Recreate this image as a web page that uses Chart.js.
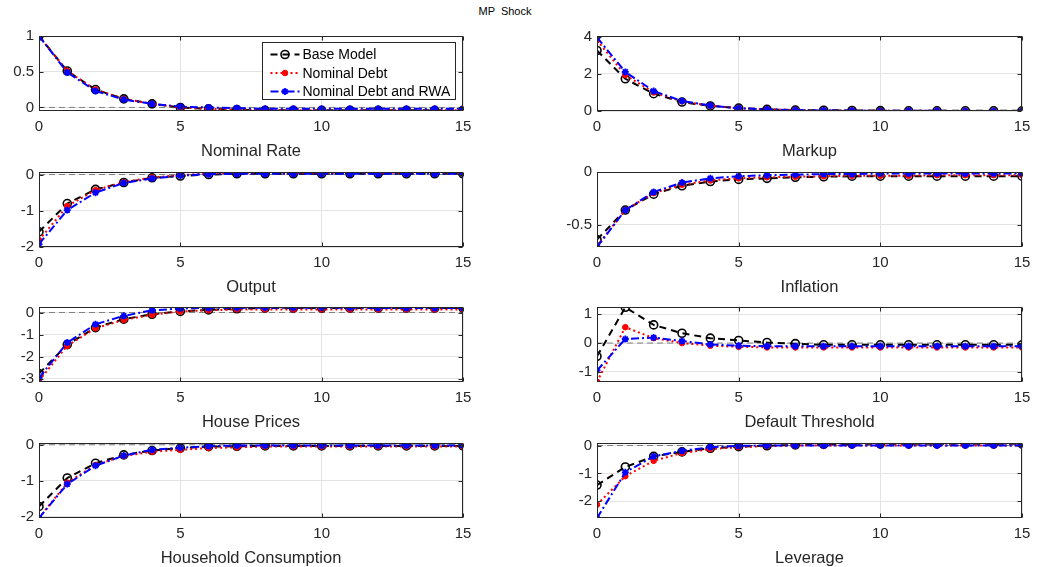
<!DOCTYPE html>
<html>
<head>
<meta charset="utf-8">
<title>MP Shock</title>
<script src="https://cdn.jsdelivr.net/npm/chart.js@4.4.1/dist/chart.umd.min.js"></script>
<style>
  body { margin: 0; background: #fff; width: 1039px; height: 567px; overflow: hidden; position: relative;
         font-family: 'Liberation Sans', Arial, Helvetica, sans-serif; }
  #title { position: absolute; top: 5px; left: 455px; width: 100px; text-align: center; font-size: 11px; color: #000; white-space: pre; }
  canvas { position: absolute; }
</style>
</head>
<body>
<div id="title">MP  Shock</div>
<script>
const periods = [0, 1, 2, 3, 4, 5, 6, 7, 8, 9, 10, 11, 12, 13, 14, 15];
const seriesNames = ['Base Model', 'Nominal Debt', 'Nominal Debt and RWA'];

const panelTitles = ['Nominal Rate', 'Markup', 'Output', 'Inflation',
                     'House Prices', 'Default Threshold', 'Household Consumption', 'Leverage'];
const yMins = [-0.05, 0, -2.0, -0.71, -3.14, -1.35, -2.03, -2.6];
const yMaxs = [1.0, 4.03, 0.07, 0, 0.25, 1.25, 0.05, 0.09];
const yTickValues = [[0, 0.5, 1], [0, 2, 4], [-2, -1, 0], [-0.5, 0],
                     [-3, -2, -1, 0], [-1, 0, 1], [-2, -1, 0], [-2, -1, 0]];
const xTickValues = [0, 5, 10, 15];

// impulse responses, one array per model and variable
const nominalRateBase = [1, 0.51, 0.25, 0.12, 0.05, 0.0, -0.02, -0.03, -0.04, -0.04, -0.04, -0.04, -0.04, -0.04, -0.04, -0.04];
const nominalRateDebt = [1, 0.51, 0.25, 0.12, 0.05, 0.0, -0.02, -0.03, -0.035, -0.04, -0.04, -0.04, -0.04, -0.04, -0.04, -0.04];
const nominalRateRwa  = [1, 0.49, 0.23, 0.11, 0.05, 0.01, 0.0, -0.01, -0.02, -0.02, -0.02, -0.02, -0.02, -0.02, -0.02, -0.02];

const markupBase = [3.25, 1.73, 0.93, 0.48, 0.27, 0.16, 0.09, 0.05, 0.04, 0.03, 0.02, 0.01, 0.01, 0.01, 0.01, 0.01];
const markupDebt = [3.8, 1.93, 1.0, 0.52, 0.28, 0.15, 0.09, 0.05, 0.03, 0.02, 0.01, 0.01, 0.01, 0.0, 0.0, 0.0];
const markupRwa  = [3.95, 2.1, 1.07, 0.54, 0.29, 0.15, 0.09, 0.05, 0.03, 0.02, 0.01, 0.01, 0.01, 0.0, 0.0, 0.0];

const outputBase = [-1.58, -0.8, -0.41, -0.22, -0.09, -0.04, 0.0, 0.02, 0.02, 0.02, 0.02, 0.02, 0.02, 0.02, 0.02, 0.02];
const outputDebt = [-1.81, -0.87, -0.43, -0.21, -0.08, -0.02, 0.03, 0.05, 0.05, 0.05, 0.05, 0.05, 0.05, 0.05, 0.05, 0.05];
const outputRwa  = [-1.92, -0.98, -0.5, -0.23, -0.11, -0.03, 0.01, 0.02, 0.02, 0.02, 0.02, 0.02, 0.02, 0.02, 0.02, 0.02];

const inflationBase = [-0.64, -0.36, -0.21, -0.13, -0.09, -0.07, -0.06, -0.05, -0.045, -0.04, -0.04, -0.04, -0.04, -0.04, -0.04, -0.04];
const inflationDebt = [-0.7, -0.36, -0.2, -0.12, -0.08, -0.06, -0.05, -0.045, -0.04, -0.035, -0.035, -0.035, -0.03, -0.03, -0.03, -0.03];
const inflationRwa  = [-0.71, -0.36, -0.19, -0.1, -0.06, -0.04, -0.03, -0.025, -0.02, -0.02, -0.015, -0.015, -0.015, -0.015, -0.015, -0.015];

const housePricesBase = [-2.76, -1.45, -0.68, -0.3, -0.08, 0.05, 0.12, 0.17, 0.2, 0.2, 0.2, 0.2, 0.2, 0.2, 0.2, 0.2];
const housePricesDebt = [-3.08, -1.5, -0.71, -0.33, -0.1, 0.05, 0.1, 0.14, 0.14, 0.14, 0.14, 0.14, 0.14, 0.14, 0.14, 0.14];
const housePricesRwa  = [-2.95, -1.36, -0.53, -0.15, 0.1, 0.18, 0.21, 0.22, 0.22, 0.22, 0.22, 0.22, 0.21, 0.21, 0.2, 0.2];

const thresholdBase = [-0.46, 1.24, 0.63, 0.34, 0.17, 0.09, 0.02, -0.02, -0.06, -0.06, -0.06, -0.06, -0.06, -0.06, -0.06, -0.06];
const thresholdDebt = [-1.34, 0.55, 0.17, 0.0, -0.09, -0.13, -0.15, -0.15, -0.15, -0.15, -0.15, -0.15, -0.15, -0.15, -0.15, -0.15];
const thresholdRwa  = [-0.95, 0.14, 0.19, 0.07, -0.05, -0.09, -0.11, -0.11, -0.11, -0.11, -0.11, -0.11, -0.11, -0.11, -0.11, -0.11];

const consumptionBase = [-1.71, -0.92, -0.51, -0.28, -0.16, -0.09, -0.05, -0.04, -0.03, -0.03, -0.03, -0.03, -0.03, -0.03, -0.03, -0.03];
const consumptionDebt = [-2.03, -1.05, -0.56, -0.31, -0.19, -0.14, -0.09, -0.07, -0.05, -0.05, -0.05, -0.05, -0.05, -0.05, -0.05, -0.05];
const consumptionRwa  = [-2.03, -1.09, -0.58, -0.3, -0.14, -0.08, -0.04, -0.02, -0.02, -0.02, -0.02, -0.02, -0.02, -0.02, -0.02, -0.02];

const leverageBase = [-1.42, -0.77, -0.39, -0.23, -0.1, -0.04, -0.01, 0.02, 0.04, 0.06, 0.06, 0.06, 0.06, 0.06, 0.06, 0.06];
const leverageDebt = [-2.12, -1.1, -0.55, -0.27, -0.13, -0.06, -0.02, 0.0, 0.0, 0.0, 0.0, 0.0, 0.0, 0.0, 0.0, 0.0];
const leverageRwa  = [-2.6, -0.96, -0.39, -0.19, -0.06, -0.01, 0.0, 0.0, 0.0, 0.0, 0.0, 0.0, 0.0, 0.0, 0.0, 0.0];

const panelSeries = [
  [nominalRateBase, nominalRateDebt, nominalRateRwa],
  [markupBase, markupDebt, markupRwa],
  [outputBase, outputDebt, outputRwa],
  [inflationBase, inflationDebt, inflationRwa],
  [housePricesBase, housePricesDebt, housePricesRwa],
  [thresholdBase, thresholdDebt, thresholdRwa],
  [consumptionBase, consumptionDebt, consumptionRwa],
  [leverageBase, leverageDebt, leverageRwa],
];

const FONT = "'Liberation Sans', Arial, Helvetica, sans-serif";
const INK = '#262626';

const lineStyles = [
  { borderColor: '#000000', borderDash: [7, 5], pointStyle: 'circle', pointRadius: 4,
    pointBackgroundColor: 'rgba(0,0,0,0)', pointBorderColor: '#000000', pointBorderWidth: 1.6 },
  { borderColor: '#ff0000', borderDash: [2, 3], pointStyle: 'circle', pointRadius: 2.8,
    pointBackgroundColor: '#ff0000', pointBorderColor: '#ff0000', pointBorderWidth: 1 },
  { borderColor: '#0000ff', borderDash: [8, 3, 2, 3], pointStyle: 'star', pointRadius: 3.5,
    pointBackgroundColor: '#0000ff', pointBorderColor: '#0000ff', pointBorderWidth: 1.8 },
];

// axes box with inward tick marks
const frame = {
  id: 'frame',
  afterDatasetsDraw(chart) {
    const { ctx, chartArea: a, scales: { x, y } } = chart;
    const l = Math.round(a.left) + 0.5, r = Math.round(a.right) - 0.5;
    const t = Math.round(a.top) + 0.5, b = Math.round(a.bottom) - 0.5;
    ctx.save();
    ctx.strokeStyle = INK;
    ctx.lineWidth = 1;
    ctx.setLineDash([]);
    ctx.strokeRect(l, t, r - l, b - t);
    ctx.beginPath();
    x.ticks.forEach(tk => {
      const px = Math.round(x.getPixelForValue(tk.value)) + 0.5;
      ctx.moveTo(px, t); ctx.lineTo(px, t + 4);
      ctx.moveTo(px, b); ctx.lineTo(px, b - 4);
    });
    y.ticks.forEach(tk => {
      const py = Math.round(y.getPixelForValue(tk.value)) + 0.5;
      ctx.moveTo(l, py); ctx.lineTo(l + 4, py);
      ctx.moveTo(r, py); ctx.lineTo(r - 4, py);
    });
    ctx.stroke();
    ctx.restore();
  }
};

// legend drawn inside the plot area, top right corner
const insetLegend = {
  id: 'insetLegend',
  afterDraw(chart) {
    const { ctx, chartArea: a } = chart;
    const w = 193, h = 57;
    const x0 = Math.round(a.right - 201) + 0.5, y0 = Math.round(a.top + 6) + 0.5;
    ctx.save();
    ctx.fillStyle = '#fff';
    ctx.fillRect(x0, y0, w, h);
    ctx.strokeStyle = INK;
    ctx.lineWidth = 1;
    ctx.setLineDash([]);
    ctx.strokeRect(x0, y0, w, h);
    ctx.font = '14px ' + FONT;
    ctx.textBaseline = 'middle';
    const rows = [12, 30.5, 49];
    seriesNames.forEach((name, i) => {
      const st = lineStyles[i];
      const cy = y0 + rows[i];
      ctx.strokeStyle = st.borderColor;
      ctx.lineWidth = 2;
      ctx.setLineDash(st.borderDash);
      ctx.beginPath();
      ctx.moveTo(x0 + 8, cy); ctx.lineTo(x0 + 37, cy);
      ctx.stroke();
      ctx.setLineDash([]);
      ctx.fillStyle = st.pointBackgroundColor;
      ctx.strokeStyle = st.pointBorderColor;
      ctx.lineWidth = st.pointBorderWidth;
      Chart.helpers.drawPoint(ctx, { pointStyle: st.pointStyle, radius: st.pointRadius,
        borderWidth: st.pointBorderWidth, rotation: 0 }, x0 + 22.5, cy);
      ctx.fillStyle = '#000';
      ctx.fillText(name, x0 + 40, cy + 1);
    });
    ctx.restore();
  }
};

const colLefts = [39, 597];
const colWidths = [424, 425];
const rowTops = [36, 172, 307, 443];
const plotHeight = 75;
const yAxisWidth = 60, xAxisHeight = 52, padTop = 10, padRight = 14;

panelTitles.forEach((title, p) => {
  const col = p % 2, row = Math.floor(p / 2);
  const canvas = document.createElement('canvas');
  const cw = yAxisWidth + colWidths[col] + padRight;
  const ch = padTop + plotHeight + xAxisHeight;
  canvas.width = cw; canvas.height = ch;
  canvas.style.left = (colLefts[col] - yAxisWidth) + 'px';
  canvas.style.top = (rowTops[row] - padTop) + 'px';
  canvas.style.width = cw + 'px'; canvas.style.height = ch + 'px';
  document.body.appendChild(canvas);

  const datasets = panelSeries[p].map((vals, i) => ({
    label: seriesNames[i],
    data: periods.map((t, k) => ({ x: t, y: vals[k] })),
    borderWidth: 2,
    tension: 0,
    order: 3 - i,
    ...lineStyles[i],
  }));
  datasets.push({
    label: 'zero',
    data: periods.map(t => ({ x: t, y: 0 })),
    borderColor: '#808080',
    borderDash: [6, 4],
    borderWidth: 1,
    pointRadius: 0,
    order: 10,
  });

  new Chart(canvas, {
    type: 'line',
    data: { datasets },
    options: {
      responsive: false,
      animation: false,
      devicePixelRatio: 1,
      layout: { padding: { top: padTop, right: padRight, left: 0, bottom: 0 } },
      plugins: { legend: { display: false }, tooltip: { enabled: false } },
      scales: {
        x: {
          type: 'linear',
          min: 0, max: 15,
          afterBuildTicks: s => { s.ticks = xTickValues.map(v => ({ value: v })); },
          afterFit: s => { s.height = xAxisHeight; s.paddingLeft = 0; s.paddingRight = 0; },
          grid: { color: '#e3e3e3', drawTicks: false },
          border: { display: false },
          ticks: { color: INK, font: { family: FONT, size: 15 }, padding: 7, maxRotation: 0 },
          title: { display: true, text: title, color: INK, font: { family: FONT, size: 16.5 },
                   padding: { top: 0, bottom: 2 } },
        },
        y: {
          min: yMins[p], max: yMaxs[p],
          afterBuildTicks: s => { s.ticks = yTickValues[p].map(v => ({ value: v })); },
          afterFit: s => { s.width = yAxisWidth; s.paddingTop = 0; s.paddingBottom = 0; },
          grid: { color: '#e3e3e3', drawTicks: false },
          border: { display: false },
          ticks: { color: INK, font: { family: FONT, size: 15 }, padding: 5, callback: v => String(v) },
        },
      },
    },
    plugins: p === 0 ? [frame, insetLegend] : [frame],
  });
});
</script>
</body>
</html>
